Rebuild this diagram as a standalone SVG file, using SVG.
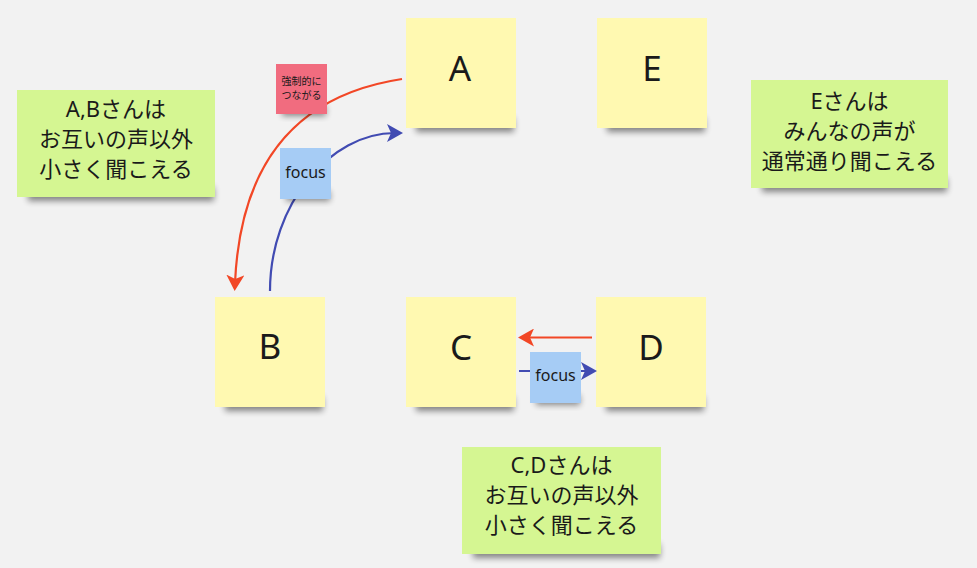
<svg xmlns="http://www.w3.org/2000/svg" width="977" height="568" viewBox="0 0 977 568">
<style>
.bg{fill:#f2f2f2}
.yel{fill:#fff9b1}
.grn{fill:#d5f692}
.blu{fill:#a6ccf5}
.pnk{fill:#f16c7f}
.sh{fill:#000;opacity:.45;filter:url(#blur)}
.big{font-family:"Noto Sans","Noto Sans CJK JP",sans-serif;font-size:35px;fill:#1a1a1a;text-anchor:middle}
.mid{font-family:"Noto Sans","Noto Sans CJK JP",sans-serif;font-size:22px;fill:#1a1a1a;text-anchor:middle}
.sm{font-family:"Noto Sans","Noto Sans CJK JP",sans-serif;font-size:16px;fill:#1a1a1a;text-anchor:middle}
.xs{font-family:"Noto Sans CJK JP",sans-serif;font-size:10px;fill:#1a1a1a;text-anchor:middle}
.red{fill:none;stroke:#f24726;stroke-width:2.2}
.blue{fill:none;stroke:#414bb2;stroke-width:2.2}
</style>
<defs>
<filter id="blur" x="-20%" y="-60%" width="140%" height="220%"><feGaussianBlur stdDeviation="3"/></filter>
<marker id="ar" viewBox="0 0 16 18" refX="8" refY="9" markerWidth="16" markerHeight="18" markerUnits="userSpaceOnUse" orient="auto"><path d="M0,0 L16,9 L0,18 L4,9 Z" fill="#f24726"/></marker>
<marker id="ab" viewBox="0 0 16 18" refX="8" refY="9" markerWidth="16" markerHeight="18" markerUnits="userSpaceOnUse" orient="auto"><path d="M0,0 L16,9 L0,18 L4,9 Z" fill="#414bb2"/></marker>
</defs>
<rect class="bg" x="0" y="0" width="977" height="568"/>

<g id="note-A">
<rect class="sh" x="416" y="118" width="98" height="14"/>
<rect class="yel" x="406" y="18" width="110" height="110"/>
<text class="big" x="460" y="81">A</text>
</g>
<g id="note-E">
<rect class="sh" x="607" y="118" width="98" height="14"/>
<rect class="yel" x="597" y="18" width="110" height="110"/>
<text class="big" x="652" y="81">E</text>
</g>
<g id="note-B">
<rect class="sh" x="225" y="397" width="98" height="14"/>
<rect class="yel" x="215" y="297" width="110" height="110"/>
<text class="big" x="270" y="359">B</text>
</g>
<g id="note-C">
<rect class="sh" x="416" y="397" width="98" height="14"/>
<rect class="yel" x="406" y="297" width="110" height="110"/>
<text class="big" x="461" y="359.5">C</text>
</g>
<g id="note-D">
<rect class="sh" x="606" y="397" width="98" height="14"/>
<rect class="yel" x="596" y="297" width="110" height="110"/>
<text class="big" x="651" y="359.5">D</text>
</g>

<g id="note-AB">
<rect class="sh" x="28" y="187" width="186" height="14"/>
<rect class="grn" x="17" y="90" width="198" height="107"/>
<text class="mid" x="116" y="116.5">A,Bさんは</text>
<text class="mid" x="116" y="146.5">お互いの声以外</text>
<text class="mid" x="116" y="176.5">小さく聞こえる</text>
</g>
<g id="note-Einfo">
<rect class="sh" x="762" y="178" width="185" height="14"/>
<rect class="grn" x="751" y="80" width="197" height="108"/>
<text class="mid" x="849.5" y="108.5">Eさんは</text>
<text class="mid" x="849.5" y="138.5">みんなの声が</text>
<text class="mid" x="849.5" y="168.5">通常通り聞こえる</text>
</g>
<g id="note-CD">
<rect class="sh" x="473" y="544" width="187" height="14"/>
<rect class="grn" x="462" y="447" width="199" height="107"/>
<text class="mid" x="561.5" y="473">C,Dさんは</text>
<text class="mid" x="561.5" y="503">お互いの声以外</text>
<text class="mid" x="561.5" y="533">小さく聞こえる</text>
</g>

<g id="connectors">
<path class="red" d="M402,79 C290,96 240,170 235,283" marker-end="url(#ar)"/>
<path class="blue" d="M270,291 C270,204 330,133 395,133" marker-end="url(#ab)"/>
<path class="red" d="M592,337.5 L526,337.5" marker-end="url(#ar)"/>
<path class="blue" d="M519,371 L589,371" marker-end="url(#ab)"/>
</g>

<g id="label-force">
<rect class="sh" x="282" y="106" width="44" height="10"/>
<rect class="pnk" x="276" y="64" width="51" height="50"/>
<text class="xs" x="301.5" y="85">強制的に</text>
<text class="xs" x="301.5" y="98.5">つながる</text>
</g>
<g id="label-focus1">
<rect class="sh" x="286" y="191" width="44" height="10"/>
<rect class="blu" x="280" y="148" width="51" height="51"/>
<text class="sm" x="305.5" y="178">focus</text>
</g>
<g id="label-focus2">
<rect class="sh" x="536" y="395" width="44" height="10"/>
<rect class="blu" x="530" y="352" width="51" height="51"/>
<text class="sm" x="555.5" y="381">focus</text>
</g>
</svg>
